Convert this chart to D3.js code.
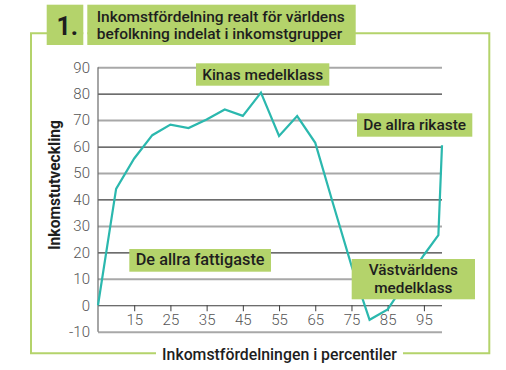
<!DOCTYPE html>
<html><head><meta charset="utf-8">
<script src="https://cdn.jsdelivr.net/npm/d3@7"></script>
<style>body{margin:0;background:#fff}svg{display:block}</style>
</head><body>
<svg id="chart" width="506" height="370"></svg>
<script>
// ---- data ----
const percentiles = [5,10,15,20,25,30,35,40,45,50,55,60,65,70,75,80,85,90,95,99,100];
const growth      = [0,44,55.5,64.3,68.3,67,70.2,74,71.6,80.4,64,71.5,61.4,38,15,-5.5,-1.6,8.7,19,26.5,60.5];
const xTickValues = [15,25,35,45,55,65,75,85,95];
const yTickValues = [-10,0,10,20,30,40,50,60,70,80,90];
const titleNumber = "1.";
const titleLines  = ["Inkomstfördelning realt för världens","befolkning indelat i inkomstgrupper"];
const yTitle = "Inkomstutveckling";
const xTitle = "Inkomstfördelningen i percentiler";
const annotationTexts = [["Kinas medelklass"],["De allra rikaste"],["De allra fattigaste"],["Västvärldens","medelklass"]];

// ---- layout ----
const GREEN = "#b4d36b", TEAL = "#2bb8ae", INK = "#1e1e1e";
const FONT = "Roboto, 'Liberation Sans', sans-serif";
const svg = d3.select("#chart");
const x = d3.scaleLinear().domain([5,100]).range([98,442]);
const y = d3.scaleLinear().domain([-10,90]).range([331.7,67.2]);

function fit(sel, w){
  const fs = parseFloat(sel.attr("font-size"));
  const len = sel.node().getComputedTextLength();
  sel.attr("font-size", (fs*w/len).toFixed(2));
  return +sel.attr("font-size");
}
// multi-line text as one <text> with tspans; font fitted so first line has width w
function multiText(parent, lines, xPos, yFirst, lh, anchor, w, weight){
  const t = parent.append("text").attr("font-family",FONT).attr("font-weight",weight)
    .attr("font-size",15).attr("fill",INK).attr("text-anchor",anchor);
  const spans = lines.map((s,j)=>t.append("tspan").attr("x",xPos).attr("y",yFirst+j*lh).text(s));
  const len = spans[0].node().getComputedTextLength();
  t.attr("font-size",(15*w/len).toFixed(2));
  return t;
}

// frame
const frame = svg.append("g").attr("stroke", GREEN).attr("stroke-width", 2).attr("fill","none");
frame.append("path").attr("d","M156,353.3 H31 V33.3 H489.3 V353.3 H403");

// title boxes
svg.append("rect").attr("x",83.3).attr("y",30).attr("width",4).attr("height",8).attr("fill","#fff");
svg.append("rect").attr("x",46.7).attr("y",4.7).attr("width",36.6).attr("height",40.3).attr("fill",GREEN);
svg.append("rect").attr("x",87.3).attr("y",4.7).attr("width",268.4).attr("height",40.3).attr("fill",GREEN);
svg.append("text").attr("x",56.5).attr("y",35).attr("font-family",FONT).attr("font-weight",700)
  .attr("font-size",25).attr("fill",INK).text(titleNumber);
multiText(svg, titleLines, 96.7, 22.4, 17, "start", 248, 500);

// y axis with gridlines
const yAxis = d3.axisLeft(y).tickValues(yTickValues).tickSize(-344).tickSizeOuter(0).tickPadding(8)
  .tickFormat(d=>d<0?"-"+Math.abs(d):d);
const gy = svg.append("g").attr("transform","translate(98,0)").call(yAxis);
gy.select(".domain").remove();
gy.selectAll(".tick line")
  .attr("stroke", d => Math.abs(d/10)%2===1 ? "#a8a8a8" : "#3c3c3c")
  .attr("stroke-width", d => Math.abs(d/10)%2===1 ? 2 : 1.2);
gy.selectAll(".tick text").attr("font-family",FONT).attr("font-weight",300).attr("font-size",15)
  .attr("fill","#555");
svg.append("line").attr("x1",98).attr("x2",98).attr("y1",y(90)).attr("y2",y(-10))
  .attr("stroke","#6a6a6a").attr("stroke-width",1.2);

// x axis
const xAxis = d3.axisBottom(x).tickValues(xTickValues).tickSize(6).tickSizeOuter(0).tickPadding(3);
const gx = svg.append("g").attr("transform",`translate(0,${y(0)})`).call(xAxis);
gx.select(".domain").remove();
gx.selectAll(".tick line").attr("stroke","#3c3c3c");
gx.selectAll(".tick text").attr("font-family",FONT).attr("font-weight",300).attr("font-size",15)
  .attr("fill","#555");

// line
const line = d3.line().x((d,i)=>x(percentiles[i])).y(d=>y(d));
svg.append("path").datum(growth).attr("d",line).attr("fill","none")
  .attr("stroke",TEAL).attr("stroke-width",2.2).attr("stroke-linejoin","miter");

// axis titles
const yt = svg.append("text").attr("transform","translate(60,185) rotate(-90)").attr("text-anchor","middle")
  .attr("font-family",FONT).attr("font-weight",700).attr("font-size",15).attr("fill",INK).text(yTitle);
fit(yt,130);
svg.append("rect").attr("x",157).attr("y",345).attr("width",245).attr("height",18).attr("fill","#fff");
const xt = svg.append("text").attr("x",279.5).attr("y",360).attr("text-anchor","middle")
  .attr("font-family",FONT).attr("font-weight",500).attr("font-size",15).attr("fill",INK).text(xTitle);
fit(xt,235);

// annotations (boxes in pixel layout)
const boxes = [
  {x0:196, x1:329.3, y0:63.3, y1:85.7, w:121},
  {x0:357, x1:472.3, y0:113.3, y1:136.7, w:103},
  {x0:129.3, x1:271, y0:249, y1:271.7, w:129},
  {x0:351.7, x1:475, y0:259, y1:299.3, w:89}
];
annotationTexts.forEach((lines,i)=>{
  const b = boxes[i];
  svg.append("rect").attr("x",b.x0).attr("y",b.y0).attr("width",b.x1-b.x0).attr("height",b.y1-b.y0)
    .attr("fill",GREEN);
  const cx = (b.x0+b.x1)/2, cy = (b.y0+b.y1)/2;
  const n = lines.length, lh = 18.2;
  multiText(svg, lines, cx, cy - (n-1)/2*lh + 5, lh, "middle", b.w, 500);
});
</script>
</body></html>
